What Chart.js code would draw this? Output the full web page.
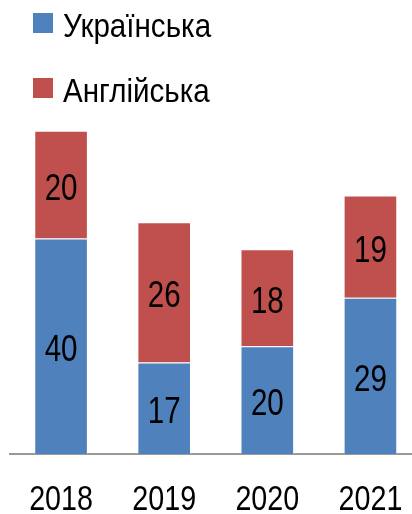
<!DOCTYPE html>
<html>
<head>
<meta charset="utf-8">
<script src="https://cdn.jsdelivr.net/npm/chart.js@4"></script>
<style>
  html, body { margin: 0; padding: 0; background: #fff; overflow: hidden; width: 412px; height: 514px; }
  #chart { position: absolute; left: 0; top: 0; }
</style>
</head>
<body>
<canvas id="chart" width="422" height="514"></canvas>
<script>
var years = ['2018', '2019', '2020', '2021'];
var ukrainian = [40, 17, 20, 29];
var english = [20, 26, 18, 19];
var seriesNames = ['Українська', 'Англійська'];

var FONT = '"Liberation Sans", Arial, sans-serif';

function narrowText(ctx, text, x, y, align, sx) {
    ctx.save();
    ctx.translate(x, y);
    ctx.scale(sx, 1);
    ctx.textAlign = align;
    ctx.fillText(text, 0, 0);
    ctx.restore();
}

// values in the middle of each segment + year labels under the axis
var narrowLabels = {
    id: 'narrowLabels',
    afterDatasetsDraw: function (chart) {
        var ctx = chart.ctx;
        ctx.save();
        ctx.fillStyle = '#000';
        ctx.font = '36px ' + FONT;
        ctx.textBaseline = 'alphabetic';
        chart.data.datasets.forEach(function (ds, i) {
            chart.getDatasetMeta(i).data.forEach(function (bar, j) {
                var p = bar.getProps(['x', 'y', 'base'], true);
                narrowText(ctx, String(ds.data[j]), p.x, (p.y + p.base) / 2 + 15, 'center', 0.82);
            });
        });
        var xs = chart.scales.x;
        ctx.font = '35px ' + FONT;
        chart.data.labels.forEach(function (lab, j) {
            narrowText(ctx, lab, xs.getPixelForTick(j), 510, 'center', 0.82);
        });
        ctx.restore();
    }
};

// legend stacked one item per row at top-left
var rowLegend = {
    id: 'rowLegend',
    afterDraw: function (chart) {
        var ctx = chart.ctx;
        ctx.save();
        ctx.font = '34px ' + FONT;
        ctx.textBaseline = 'alphabetic';
        chart.data.datasets.forEach(function (ds, i) {
            var y = 37 + i * 65;
            ctx.fillStyle = ds.backgroundColor;
            ctx.fillRect(33, y - 24, 20, 20);
            ctx.fillStyle = '#000';
            narrowText(ctx, ds.label, 63, y, 'left', 0.87);
        });
        ctx.restore();
    }
};

new Chart(document.getElementById('chart'), {
    type: 'bar',
    data: {
        labels: years,
        datasets: [{
            label: seriesNames[0],
            data: ukrainian,
            backgroundColor: '#4F81BD',
            borderColor: 'rgba(255,255,255,0.35)',
            borderWidth: 1
        }, {
            label: seriesNames[1],
            data: english,
            backgroundColor: '#C0504D',
            borderColor: 'rgba(255,255,255,0.35)',
            borderWidth: 1
        }]
    },
    options: {
        responsive: false,
        animation: false,
        layout: { padding: { left: 9.5, right: 0, top: 23, bottom: 52 } },
        datasets: { bar: { barPercentage: 0.52, categoryPercentage: 1 } },
        plugins: {
            legend: { display: false },
            tooltip: { enabled: false }
        },
        scales: {
            x: {
                stacked: true,
                grid: { display: false },
                border: { display: true, color: '#999', width: 2 },
                ticks: { display: false }
            },
            y: {
                stacked: true,
                display: false,
                min: 0,
                max: 80
            }
        }
    },
    plugins: [narrowLabels, rowLegend]
});
</script>
</body>
</html>
